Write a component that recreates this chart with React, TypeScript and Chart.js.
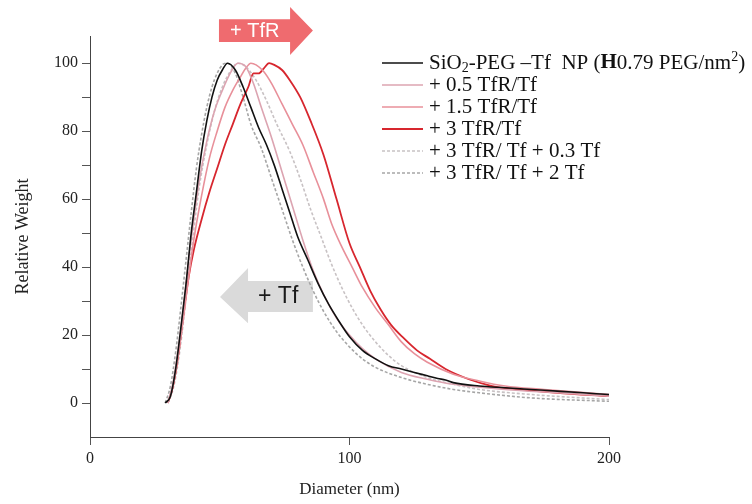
import React, { useEffect, useRef } from 'react';
import { Chart, registerables } from 'chart.js';

Chart.register(...registerables);

// ---- Data (diameter in nm, relative weight) ----
const BLACK_D = [29, 31, 33, 35, 37, 39, 41, 43, 45, 47, 49, 51, 53, 56, 59, 62, 65, 68, 71, 74, 77, 80, 84, 88, 92, 96, 100, 105, 110, 115, 120, 125, 130, 134, 137, 140, 150, 160, 170, 180, 190, 200];
const BLACK_W = [0, 2, 10, 22, 35, 50, 62, 74, 83, 90, 95, 98, 100, 98, 93, 87, 81, 76, 70, 63, 56, 49, 42, 35, 29, 24, 19.5, 15.5, 13, 11, 10, 9, 8, 7.2, 6.8, 6, 5, 4.5, 4, 3.5, 3, 2.5];

const PINK05_D = [30, 32, 34, 36, 38, 40, 42, 45, 48, 51, 54, 57, 60, 63, 66, 70, 74, 78, 82, 86, 90, 95, 100, 105, 110, 120, 130, 140, 160, 180, 200];
const PINK05_W = [0, 6, 16, 28, 42, 54, 65, 77, 86, 92, 97, 100, 99, 94, 87, 78, 68, 58, 48, 39, 32, 25, 20, 16, 13, 9, 7, 5.5, 4, 3, 2];

const PINK15_D = [30, 32, 34, 36, 38, 40, 43, 46, 49, 52, 55, 58, 60, 62, 64, 67, 70, 74, 78, 82, 86, 90, 93, 97, 101, 105, 110, 115, 120, 125, 130, 140, 150, 160, 175, 200];
const PINK15_W = [0, 5, 14, 25, 37, 48, 61, 72, 80, 87, 92, 96, 98.5, 100, 99.5, 97.5, 94, 88, 82, 76, 68, 60, 53, 46, 40, 34, 28, 23, 18, 14.5, 12, 8.5, 6.5, 5, 4, 2.5];

const RED3_D = [30, 32, 34, 36, 38, 40, 43, 46, 49, 52, 55, 58, 61, 63, 65, 67, 69, 71, 74, 77, 81, 85, 90, 95, 100, 104, 108, 112, 116, 121, 126, 131, 137, 146, 155, 165, 180, 200];
const RED3_W = [0, 5, 14, 26, 37, 45, 54, 62, 69, 76, 82, 88, 93, 97, 97, 98.5, 100, 99.5, 98, 95, 90, 83, 73, 60, 47, 40, 33, 27.5, 23, 19, 15.5, 13, 10, 7, 5, 4, 3, 2];

const DASH03_D = [30, 32, 34, 36, 38, 40, 42, 45, 48, 51, 54, 57, 60, 64, 68, 72, 77, 81, 85, 89, 93, 97, 101, 105, 110, 115, 120, 130, 140, 150, 170, 200];
const DASH03_W = [0, 4, 12, 24, 38, 51, 63, 76, 86, 93, 97.5, 100, 99, 95, 89, 82, 74, 66, 57, 49, 41, 34, 28, 23, 18, 14, 11, 7.5, 5.5, 4, 2.5, 1];

const DASH2_D = [29, 31, 33, 35, 37, 39, 41, 43, 45, 47, 49, 51, 53, 56, 59, 62, 66, 70, 74, 78, 82, 86, 90, 95, 100, 105, 110, 120, 130, 140, 150, 170, 200];
const DASH2_W = [0, 5, 15, 28, 42, 56, 69, 79, 87, 93, 97, 99.5, 100, 97, 90, 82, 75, 66, 57, 48, 40, 33, 27, 21, 16.5, 13, 10.5, 7.5, 5.5, 4, 3, 1.5, 0.5];

const SERIES_LABELS = [
  'SiO₂-PEG –Tf  NP (H0.79 PEG/nm²)',
  '+ 0.5 TfR/Tf',
  '+ 1.5 TfR/Tf',
  '+ 3 TfR/Tf',
  '+ 3 TfR/ Tf + 0.3 Tf',
  '+ 3 TfR/ Tf + 2 Tf',
];
const X_TICKS = [0, 100, 200];
const Y_TICKS = [-10, 0, 10, 20, 30, 40, 50, 60, 70, 80, 90, 100];
const Y_LABELLED = [0, 20, 40, 60, 80, 100];
const X_TITLE = 'Diameter (nm)';
const Y_TITLE = 'Relative Weight';
const ARROW_TFR = '+ TfR';
const ARROW_TF = '+ Tf';

// rich text of first legend entry
const FIRST_LABEL_PARTS = [
  { t: 'SiO' },
  { t: '2', sub: true },
  { t: '-PEG –Tf  NP (' },
  { t: 'H', bold: true },
  { t: '0.79 PEG/nm' },
  { t: '2', sup: true },
  { t: ')' },
];

const SERIF = '"Liberation Serif", "Times New Roman", serif';
const SANS = '"Liberation Sans", Arial, sans-serif';

const pts = (d: number[], w: number[]) => d.map((x, i) => ({ x, y: w[i] }));

const annotations = {
  id: 'annotations',
  beforeDatasetsDraw(chart: any) {
    const { ctx, scales } = chart;
    const xs = scales.x, ys = scales.y;
    const X = (v: number) => xs.getPixelForValue(v);
    const Y = (v: number) => ys.getPixelForValue(v);
    ctx.save();
    // red "+ TfR" arrow (pointing right)
    ctx.fillStyle = '#ef6b6f';
    ctx.beginPath();
    ctx.moveTo(X(49.7), Y(112.9));
    ctx.lineTo(X(77.1), Y(112.9));
    ctx.lineTo(X(77.1), Y(116.5));
    ctx.lineTo(X(85.9), Y(109.6));
    ctx.lineTo(X(77.1), Y(102.4));
    ctx.lineTo(X(77.1), Y(106.2));
    ctx.lineTo(X(49.7), Y(106.2));
    ctx.closePath();
    ctx.fill();
    ctx.fillStyle = '#ffffff';
    ctx.font = `20px ${SANS}`;
    ctx.textAlign = 'center';
    ctx.textBaseline = 'middle';
    ctx.fillText(ARROW_TFR, X(63.5), Y(109.4));

    // gray "+ Tf" arrow (pointing left)
    ctx.fillStyle = '#dadada';
    ctx.beginPath();
    ctx.moveTo(X(50.1), Y(31.2));
    ctx.lineTo(X(60.9), Y(39.7));
    ctx.lineTo(X(60.9), Y(35.9));
    ctx.lineTo(X(85.9), Y(35.9));
    ctx.lineTo(X(85.9), Y(26.8));
    ctx.lineTo(X(60.9), Y(26.8));
    ctx.lineTo(X(60.9), Y(23.5));
    ctx.closePath();
    ctx.fill();
    ctx.fillStyle = '#1a1a1a';
    ctx.font = `23px ${SANS}`;
    ctx.fillText(ARROW_TF, X(72.5), Y(31.2));
    ctx.restore();
  },
  afterDraw(chart: any) {
    const { ctx, chartArea } = chart;
    const lineX0 = chartArea.right - 227;
    const lineX1 = chartArea.right - 186;
    const textX = chartArea.right - 180;
    const y0 = chartArea.top + 27;
    const step = 22;
    ctx.save();
    chart.data.datasets.forEach((ds: any, i: number) => {
      const y = y0 + i * step;
      ctx.strokeStyle = ds.borderColor;
      ctx.lineWidth = ds.borderWidth;
      ctx.setLineDash(ds.borderDash || []);
      ctx.beginPath();
      ctx.moveTo(lineX0, y);
      ctx.lineTo(lineX1, y);
      ctx.stroke();
      ctx.setLineDash([]);
      ctx.fillStyle = '#111';
      ctx.textBaseline = 'middle';
      ctx.textAlign = 'left';
      if (i === 0) {
        let x = textX;
        FIRST_LABEL_PARTS.forEach((p: any) => {
          const size = p.sub || p.sup ? 14 : 21;
          ctx.font = `${p.bold ? 'bold ' : ''}${size}px ${SERIF}`;
          const dy = p.sub ? 5 : p.sup ? -6 : 0;
          ctx.fillText(p.t, x, y + dy);
          x += ctx.measureText(p.t).width;
        });
      } else {
        ctx.font = `21px ${SERIF}`;
        ctx.fillText(ds.label, textX, y);
      }
    });
    ctx.restore();
  },
};

export default function App() {
  const ref = useRef<HTMLCanvasElement>(null);
  useEffect(() => {
    if (!ref.current) return;
    const mk = (label: string, d: number[], w: number[], color: string, width: number, dash?: number[]) => ({
      label,
      data: pts(d, w),
      borderColor: color,
      backgroundColor: color,
      borderWidth: width,
      borderDash: dash,
      pointRadius: 0,
      fill: false,
      tension: 0.4,
      cubicInterpolationMode: 'monotone' as const,
    });
    const chart = new Chart(ref.current, {
      type: 'line',
      data: {
        datasets: [
          mk(SERIES_LABELS[0], BLACK_D, BLACK_W, '#111111', 1.6),
          mk(SERIES_LABELS[1], PINK05_D, PINK05_W, '#dca4b1', 1.6),
          mk(SERIES_LABELS[2], PINK15_D, PINK15_W, '#e8909a', 1.6),
          mk(SERIES_LABELS[3], RED3_D, RED3_W, '#d7262e', 1.8),
          mk(SERIES_LABELS[4], DASH03_D, DASH03_W, '#c8c2c4', 1.6, [3, 2]),
          mk(SERIES_LABELS[5], DASH2_D, DASH2_W, '#a6a6a6', 1.6, [3, 2]),
        ],
      },
      options: {
        animation: false,
        responsive: false,
        maintainAspectRatio: false,
        layout: { padding: { left: 0, top: 36, right: 143, bottom: 0 } },
        plugins: { legend: { display: false }, tooltip: { enabled: false } },
        scales: {
          x: {
            type: 'linear',
            min: 0,
            max: 200,
            afterBuildTicks: (s: any) => { s.ticks = X_TICKS.map((v) => ({ value: v })); },
            afterFit: (s: any) => { s.height = 67; },
            grid: { drawOnChartArea: false, drawTicks: true, tickLength: 8, tickColor: '#555' },
            border: { color: '#444', width: 1 },
            ticks: { font: { family: SERIF, size: 16 }, color: '#222', padding: 4, maxRotation: 0 },
            title: { display: true, text: X_TITLE, font: { family: SERIF, size: 17 }, color: '#222', padding: { top: 0, bottom: 4 } },
          },
          y: {
            type: 'linear',
            min: -10,
            max: 108,
            afterBuildTicks: (s: any) => { s.ticks = Y_TICKS.map((v) => ({ value: v })); },
            afterFit: (s: any) => { s.width = 90; },
            grid: {
              drawOnChartArea: false,
              drawTicks: true,
              tickLength: 8,
              tickColor: (c: any) => (c.tick && c.tick.value < 0 ? 'rgba(0,0,0,0)' : '#555'),
            },
            border: { color: '#444', width: 1 },
            ticks: {
              font: { family: SERIF, size: 16 },
              color: '#222',
              padding: 4,
              callback: (v: any) => (Y_LABELLED.includes(Number(v)) ? String(v) : ''),
            },
            title: { display: true, text: Y_TITLE, font: { family: SERIF, size: 18 }, color: '#222', padding: { top: 12, bottom: 0 } },
          },
        },
      },
      plugins: [annotations],
    });
    return () => chart.destroy();
  }, []);
  return (
    <div style={{ position: 'absolute', left: 0, top: 0, width: 752, height: 504, background: '#fff' }}>
      <canvas ref={ref} width={752} height={504} style={{ width: 752, height: 504 }} />
    </div>
  );
}
